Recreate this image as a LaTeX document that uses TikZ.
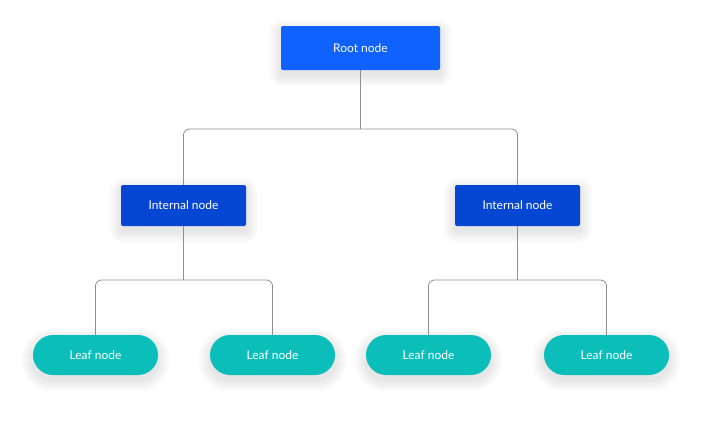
\documentclass[tikz,border=0pt]{standalone}
\usepackage{fontspec}
\setmainfont{Lato}
\definecolor{rootblue}{HTML}{1062FE}
\definecolor{innerblue}{HTML}{0546D2}
\definecolor{leafteal}{HTML}{0BBEBA}
\definecolor{linkgray}{HTML}{8E8E8E}
\pgfdeclarelayer{back}
\pgfsetlayers{back,main}
\tikzset{
  box/.style={text=white, font=\fontsize{12}{14}\selectfont, inner sep=0pt},
  rootbox/.style={box, fill=rootblue, rounded corners=2pt, minimum width=159pt, minimum height=44pt},
  innerbox/.style={box, fill=innerblue, rounded corners=2pt, minimum width=125pt, minimum height=41pt},
  leafbox/.style={box, fill=leafteal, rounded corners=20pt, minimum width=125pt, minimum height=40pt},
  link/.style={draw=linkgray, line width=0.8pt, rounded corners=6pt},
  shadowring/.style={fill=black, opacity=0.009}
}

\begin{document}
\begin{tikzpicture}[x=1pt, y=1pt]
  \useasboundingbox (0, 0) rectangle (718, -434);
  % bus points where the branches split
  \coordinate (rootbar) at (360.5, -129);
  \coordinate (leftbar) at (183.5, -280);
  \coordinate (rightbar) at (517.5, -280);
  % root
  \node [rootbox] (root) at (360.5, -48) {Root node};
  % internal nodes
  \node [innerbox] (innerleft) at (183.5, -205.5) {Internal node};
  \node [innerbox] (innerright) at (517.5, -205.5) {Internal node};
  % leaves
  \node [leafbox] (leafa) at (95.5, -355) {Leaf node};
  \node [leafbox] (leafb) at (272.5, -355) {Leaf node};
  \node [leafbox] (leafc) at (428.5, -355) {Leaf node};
  \node [leafbox] (leafd) at (606.5, -355) {Leaf node};
  % connectors
  \draw [link] (root.south) -- (rootbar);
  \draw [link] (rootbar) -| (innerleft.north);
  \draw [link] (rootbar) -| (innerright.north);
  \draw [link] (innerleft.south) -- (leftbar);
  \draw [link] (leftbar) -| (leafa.north);
  \draw [link] (leftbar) -| (leafb.north);
  \draw [link] (innerright.south) -- (rightbar);
  \draw [link] (rightbar) -| (leafc.north);
  \draw [link] (rightbar) -| (leafd.north);
  % soft drop shadows, stacked faint rings behind the boxes
  \begin{pgfonlayer}{back}
    \fill [white] (0, 0) rectangle (718, -434);
    \foreach \n/\r in {root/2, innerleft/2, innerright/2, leafa/20, leafb/20, leafc/20, leafd/20} {
      \foreach \k in {1,...,12} {
        \pgfmathsetmacro\rad{\r+\k}
        \fill [shadowring, rounded corners=\rad pt]
          ([shift={(-\k, -\k-5)}]\n.south west) rectangle ([shift={(\k, \k-5)}]\n.north east);
      }
    }
  \end{pgfonlayer}
\end{tikzpicture}
\end{document}
